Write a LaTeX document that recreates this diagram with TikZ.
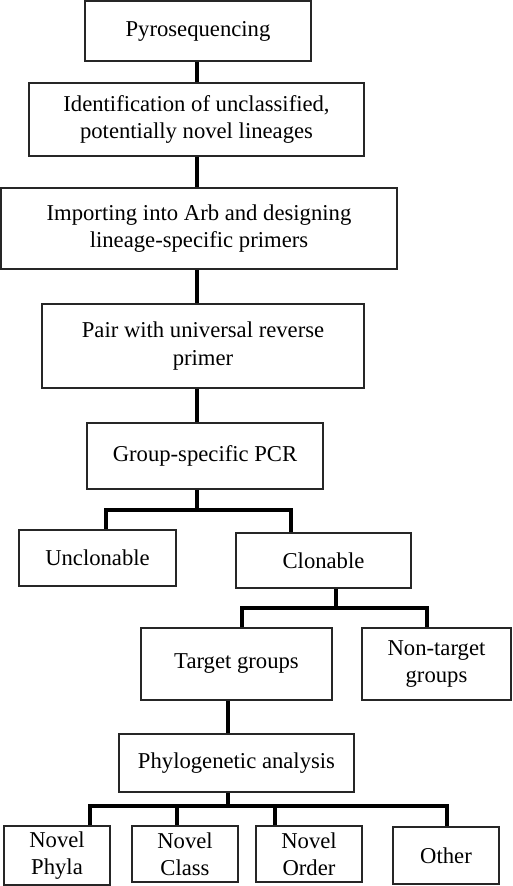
\documentclass[tikz,border=0pt]{standalone}
\usepackage{fontspec}
\setmainfont{Liberation Serif}
\begin{document}
\begin{tikzpicture}[x=0.75pt,y=-0.75pt,
  box/.style={draw=black!85,line width=1pt,fill=white,inner sep=0pt,align=center,
    font=\fontsize{17}{20.5}\selectfont},
  conn/.style={line width=2.6pt,line cap=rect,line join=miter}]
\useasboundingbox (0,0) rectangle (512,886);
% boxes
\node[box,minimum width=226*0.75pt,minimum height=60*0.75pt] (pyro) at (198,31) {Pyrosequencing};
\node[box,minimum width=335*0.75pt,minimum height=73*0.75pt] (ident) at (196.5,119.5) {Identification of unclassified,\\potentially novel lineages};
\node[box,minimum width=396*0.75pt,minimum height=81*0.75pt] (import) at (199,228.5) {Importing into Arb and designing\\lineage-specific primers};
\node[box,minimum width=322*0.75pt,minimum height=84*0.75pt] (pair) at (203,346) {Pair with universal reverse\\primer};
\node[box,minimum width=236*0.75pt,minimum height=66*0.75pt] (pcr) at (205,456) {Group-specific PCR};
\node[box,minimum width=157*0.75pt,minimum height=56*0.75pt] (uncl) at (97.5,558) {Unclonable};
\node[box,minimum width=175*0.75pt,minimum height=55*0.75pt] (clon) at (323.5,560.5) {Clonable};
\node[box,minimum width=191*0.75pt,minimum height=72*0.75pt] (target) at (236.5,664) {Target groups};
\node[box,minimum width=149*0.75pt,minimum height=72*0.75pt] (nontarget) at (436.5,664) {Non-target\\groups};
\node[box,minimum width=235*0.75pt,minimum height=58*0.75pt] (phylo) at (236.5,763) {Phylogenetic analysis};
\node[box,minimum width=106*0.75pt,minimum height=59*0.75pt] (phyla) at (57,855.5) {Novel\\Phyla};
\node[box,minimum width=106*0.75pt,minimum height=56*0.75pt] (class) at (185,854) {Novel\\Class};
\node[box,minimum width=106*0.75pt,minimum height=56*0.75pt] (order) at (309,854) {Novel\\Order};
\node[box,minimum width=106*0.75pt,minimum height=57*0.75pt] (other) at (446,855.5) {Other};
% helper coordinates
\coordinate (trunk) at (197,0);
\coordinate (s1) at (0,510);
\coordinate (b1l) at (106,0);
\coordinate (b1r) at (291,0);
\coordinate (ct) at (336,0);
\coordinate (s2) at (0,608);
\coordinate (b2l) at (242,0);
\coordinate (b2r) at (427,0);
\coordinate (pt) at (228,0);
\coordinate (s3) at (0,806);
\coordinate (b3a) at (90,0);
\coordinate (b3b) at (177,0);
\coordinate (b3c) at (275,0);
\coordinate (b3d) at (447,0);
% connectors
\begin{scope}[on background layer/.style={}]
\draw[conn,line cap=butt] (pyro.south -| trunk) -- (ident.north -| trunk);
\draw[conn,line cap=butt] (ident.south -| trunk) -- (import.north -| trunk);
\draw[conn,line cap=butt] (import.south -| trunk) -- (pair.north -| trunk);
\draw[conn,line cap=butt] (pair.south -| trunk) -- (pcr.north -| trunk);
\draw[conn,line cap=butt] (pcr.south -| trunk) -- (trunk |- s1);
\draw[conn,line cap=butt] (uncl.north -| b1l) -- (b1l |- s1) -- (b1r |- s1) -- (clon.north -| b1r);
\draw[conn,line cap=butt] (clon.south -| ct) -- (ct |- s2);
\draw[conn,line cap=butt] (target.north -| b2l) -- (b2l |- s2) -- (b2r |- s2) -- (nontarget.north -| b2r);
\draw[conn,line cap=butt] (target.south -| pt) -- (phylo.north -| pt);
\draw[conn,line cap=butt] (phylo.south -| pt) -- (pt |- s3);
\draw[conn,line cap=butt] (phyla.north -| b3a) -- (b3a |- s3) -- (b3d |- s3) -- (other.north -| b3d);
\draw[conn,line cap=butt] (class.north -| b3b) -- (b3b |- s3);
\draw[conn,line cap=butt] (order.north -| b3c) -- (b3c |- s3);
\end{scope}
\end{tikzpicture}
\end{document}
